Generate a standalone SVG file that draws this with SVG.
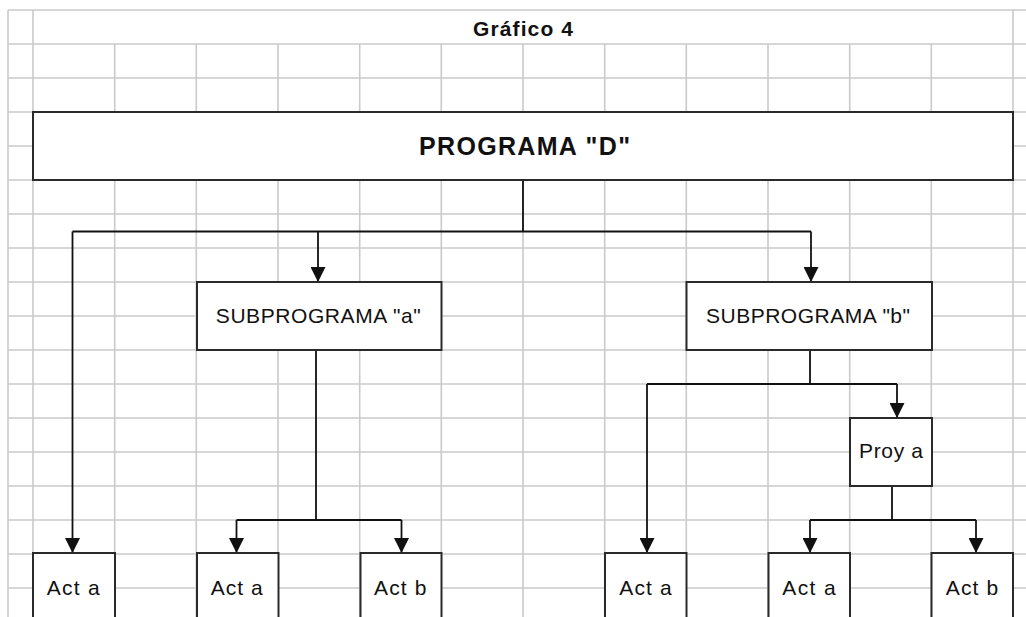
<svg xmlns="http://www.w3.org/2000/svg" width="1026" height="617" viewBox="0 0 1026 617">
<style>
.grid line{stroke:#cacaca;stroke-width:1.6}
.box{fill:#fff;stroke:#2a2a2a;stroke-width:2}
.t{font-family:"Liberation Sans",Arial,sans-serif;font-size:21px;fill:#111;text-anchor:middle}
.b{font-weight:bold}
.conn path{fill:none;stroke:#111;stroke-width:1.8}
</style>
<defs>
<marker id="arr" markerUnits="userSpaceOnUse" markerWidth="15" markerHeight="15" refX="15" refY="7.5" orient="auto">
<path d="M0,0 L15,7.5 L0,15 z" fill="#111"/>
</marker>
</defs>
<rect width="1026" height="617" fill="#fff"/>
<g class="grid">
<line x1="8" y1="10" x2="8" y2="617"/>
<line x1="33" y1="10" x2="33" y2="617"/>
<line x1="114.7" y1="44" x2="114.7" y2="617"/>
<line x1="196.3" y1="44" x2="196.3" y2="617"/>
<line x1="278" y1="44" x2="278" y2="617"/>
<line x1="359.7" y1="44" x2="359.7" y2="617"/>
<line x1="441.3" y1="44" x2="441.3" y2="617"/>
<line x1="523" y1="44" x2="523" y2="617"/>
<line x1="604.7" y1="44" x2="604.7" y2="617"/>
<line x1="686.3" y1="44" x2="686.3" y2="617"/>
<line x1="768" y1="44" x2="768" y2="617"/>
<line x1="849.7" y1="44" x2="849.7" y2="617"/>
<line x1="931.3" y1="44" x2="931.3" y2="617"/>
<line x1="1013" y1="10" x2="1013" y2="617"/>
<line x1="8" y1="10" x2="1026" y2="10"/>
<line x1="8" y1="44" x2="1026" y2="44"/>
<line x1="8" y1="78" x2="1026" y2="78"/>
<line x1="8" y1="112" x2="1026" y2="112"/>
<line x1="8" y1="146" x2="1026" y2="146"/>
<line x1="8" y1="180" x2="1026" y2="180"/>
<line x1="8" y1="214" x2="1026" y2="214"/>
<line x1="8" y1="248" x2="1026" y2="248"/>
<line x1="8" y1="282" x2="1026" y2="282"/>
<line x1="8" y1="316" x2="1026" y2="316"/>
<line x1="8" y1="350" x2="1026" y2="350"/>
<line x1="8" y1="384" x2="1026" y2="384"/>
<line x1="8" y1="418" x2="1026" y2="418"/>
<line x1="8" y1="452" x2="1026" y2="452"/>
<line x1="8" y1="486" x2="1026" y2="486"/>
<line x1="8" y1="520" x2="1026" y2="520"/>
<line x1="8" y1="554" x2="1026" y2="554"/>
<line x1="8" y1="588" x2="1026" y2="588"/>
</g>
<text class="t b" x="523" y="36" style="font-size:21px" textLength="100">Gráfico 4</text>
<g class="conn">
<path d="M523,180 V231.5 M72.5,231.5 H811"/>
<path d="M72.5,231.5 V553" marker-end="url(#arr)"/>
<path d="M318,231.5 V282" marker-end="url(#arr)"/>
<path d="M811,231.5 V282" marker-end="url(#arr)"/>
<path d="M316,350 V520 M236.5,520 H401.5"/>
<path d="M236.5,520 V553" marker-end="url(#arr)"/>
<path d="M401.5,520 V553" marker-end="url(#arr)"/>
<path d="M810,350 V384 M647,384 H897"/>
<path d="M647,384 V553" marker-end="url(#arr)"/>
<path d="M897,384 V418" marker-end="url(#arr)"/>
<path d="M892,486 V520 M810,520 H976"/>
<path d="M810,520 V553" marker-end="url(#arr)"/>
<path d="M976,520 V553" marker-end="url(#arr)"/>
</g>
<g id="programa">
<rect class="box" x="33" y="112" width="980" height="68"/>
<text class="t b" x="524.5" y="155" style="font-size:25px" textLength="211">PROGRAMA "D"</text>
</g>
<g id="sub-a">
<rect class="box" x="197" y="282" width="244.5" height="68"/>
<text class="t" x="318.3" y="323" textLength="205">SUBPROGRAMA "a"</text>
</g>
<g id="sub-b">
<rect class="box" x="686.5" y="282" width="245.5" height="68"/>
<text class="t" x="808" y="323" textLength="204">SUBPROGRAMA "b"</text>
</g>
<g id="proy-a">
<rect class="box" x="850" y="418" width="82" height="68"/>
<text class="t" x="891" y="458" textLength="64">Proy a</text>
</g>
<g id="act-a-1">
<rect class="box" x="33" y="553" width="82" height="80"/>
<text class="t" x="73.3" y="595" textLength="53">Act a</text>
</g>
<g id="act-a-2">
<rect class="box" x="197" y="553" width="81.5" height="80"/>
<text class="t" x="236.7" y="595" textLength="52">Act a</text>
</g>
<g id="act-b-2">
<rect class="box" x="360.5" y="553" width="81" height="80"/>
<text class="t" x="400.3" y="595" textLength="52.5">Act b</text>
</g>
<g id="act-a-3">
<rect class="box" x="605" y="553" width="81.5" height="80"/>
<text class="t" x="645.5" y="595" textLength="52.5">Act a</text>
</g>
<g id="act-a-4">
<rect class="box" x="768.5" y="553" width="81.5" height="80"/>
<text class="t" x="809" y="595" textLength="53.5">Act a</text>
</g>
<g id="act-b-4">
<rect class="box" x="931.5" y="553" width="81.5" height="80"/>
<text class="t" x="972" y="595" textLength="52.5">Act b</text>
</g>
</svg>
